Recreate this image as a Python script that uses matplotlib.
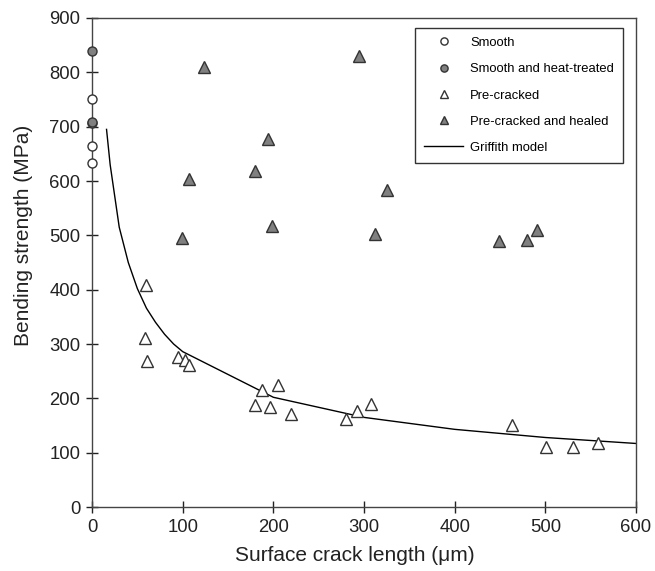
import numpy as np
import matplotlib.pyplot as plt

plt.rcParams['font.family'] = ['Liberation Sans', 'DejaVu Sans']

# smooth specimens (crack length 0)
smooth_x = [0, 0, 0, 0]
smooth_y = [750, 707, 665, 633]

heat_x = [0, 0]
heat_y = [840, 708]

# pre-cracked
pre_x = [60, 58, 61, 95, 102, 107, 188, 205, 180, 196, 219,
         280, 292, 308, 463, 501, 531, 558]
pre_y = [409, 312, 269, 277, 271, 262, 216, 225, 188, 184, 171,
         162, 177, 190, 151, 111, 111, 117]

# pre-cracked and healed
healed_x = [124, 295, 194, 180, 107, 325, 199, 99, 312, 449, 480, 491]
healed_y = [809, 830, 677, 619, 604, 584, 518, 496, 502, 490, 492, 510]

# Griffith model curve
griffith_x = [16, 20, 30, 40, 50, 60, 70, 80, 90, 100, 200, 300, 400, 500, 600]
griffith_y = [695, 630, 515, 450, 402, 366, 340, 318, 300, 286, 202, 165, 143, 128, 117]

fig = plt.figure(figsize=(6.55, 5.71), dpi=100)
ax = fig.add_axes([0.1405, 0.112, 0.8305, 0.8565])

ax.plot(griffith_x, griffith_y, color='black', lw=1.0, label='Griffith model')
ax.plot(smooth_x, smooth_y, 'o', ms=6.5, mfc='white', mec='#333333', mew=1.0,
        ls='none', clip_on=False, zorder=3, label='Smooth')
ax.plot(heat_x, heat_y, 'o', ms=6.5, mfc='#808080', mec='#333333', mew=1.0,
        ls='none', clip_on=False, zorder=4, label='Smooth and heat-treated')
ax.plot(pre_x, pre_y, '^', ms=8, mfc='white', mec='#333333', mew=1.0,
        ls='none', zorder=3, label='Pre-cracked')
ax.plot(healed_x, healed_y, '^', ms=8, mfc='#808080', mec='#333333', mew=1.0,
        ls='none', zorder=3, label='Pre-cracked and healed')

ax.set_xlim(0, 600)
ax.set_ylim(0, 900)
ax.set_xticks(np.arange(0, 601, 100))
ax.set_yticks(np.arange(0, 901, 100))
ax.tick_params(direction='inout', length=9, width=1.0, labelsize=13.3,
               colors='#222222', pad=4)
for s in ax.spines.values():
    s.set_color('#444444')
    s.set_linewidth(1.0)

ax.set_xlabel('Surface crack length (μm)', fontsize=15, color='#222222')
ax.set_ylabel('Bending strength (MPa)', fontsize=15, color='#222222')
ax.xaxis.set_label_coords(0.4825, -0.08)
ax.yaxis.set_label_coords(-0.108, 0.556)

h, l = ax.get_legend_handles_labels()
order = [1, 2, 3, 4, 0]
leg = ax.legend([h[i] for i in order], [l[i] for i in order],
                loc='upper right', bbox_to_anchor=(0.976, 0.98),
                borderaxespad=0,
                fontsize=9.4, markerscale=0.8, handlelength=3.0,
                handletextpad=0.5, labelspacing=1.08, borderpad=0.7,
                fancybox=False, framealpha=1)
leg.get_frame().set_edgecolor('#333333')
leg.get_frame().set_linewidth(1.0)

fig.savefig('out.png', dpi=100)
